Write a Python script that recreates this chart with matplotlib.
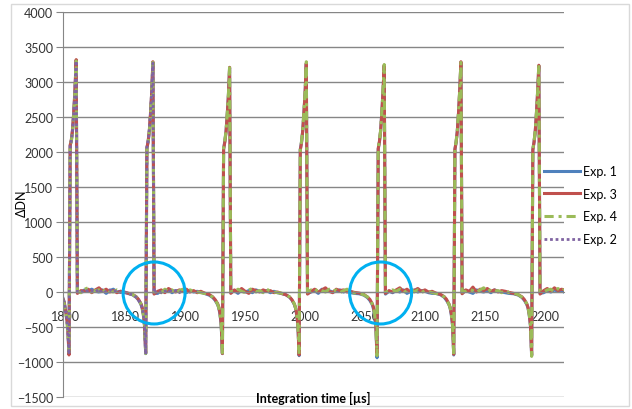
import matplotlib
matplotlib.use('Agg')
import matplotlib.pyplot as plt
from matplotlib.patches import Ellipse, Rectangle

plt.rcParams['font.family'] = ['Lato', 'DejaVu Sans']

# sample times [us]
time_us = [
    1798, 1799, 1800, 1801, 1802, 1803, 1804, 1805, 1806, 1807, 1808, 1809, 1810,
    1813, 1816, 1819, 1822, 1825, 1828, 1831, 1834, 1837, 1840, 1843, 1846, 1849,
    1852, 1856, 1859, 1861, 1863, 1864, 1865, 1866, 1867, 1868, 1869, 1870, 1871, 1872, 1873, 1874,
    1877, 1880, 1883, 1886, 1889, 1892, 1895, 1898, 1901, 1904, 1907, 1910, 1913,
    1916, 1920, 1923, 1925, 1927, 1928, 1929, 1930, 1931, 1932, 1933, 1934, 1935, 1936, 1937, 1938,
    1941, 1944, 1947, 1950, 1953, 1956, 1959, 1962, 1965, 1968, 1971, 1974, 1977,
    1980, 1984, 1987, 1989, 1991, 1992, 1993, 1994, 1995, 1996, 1997, 1998, 1999, 2000, 2001, 2002,
    2005, 2008, 2011, 2014, 2017, 2020, 2023, 2026, 2029, 2032, 2035, 2038, 2041,
    2045, 2049, 2052, 2054, 2056, 2057, 2058, 2059, 2060, 2061, 2062, 2063, 2064, 2065, 2066, 2067,
    2070, 2073, 2076, 2079, 2082, 2085, 2088, 2091, 2094, 2097, 2100, 2103, 2106,
    2109, 2113, 2116, 2118, 2120, 2121, 2122, 2123, 2124, 2125, 2126, 2127, 2128, 2129, 2130, 2131,
    2134, 2137, 2140, 2143, 2146, 2149, 2152, 2155, 2158, 2161, 2164, 2167, 2170,
    2174, 2178, 2181, 2183, 2185, 2186, 2187, 2188, 2189, 2190, 2191, 2192, 2193, 2194, 2195, 2196,
    2199, 2202, 2205, 2208, 2211, 2214, 2216,
]

exp1 = [
    -90, -140, -240, -330, -500, -880, 2090, 2170, 2310, 2560, 2880, 3310, -10,
    0, 30, 20, 40, 10, 0, 30, -20, 20, 40, 0, 10, -5,
    -20, -40, -75, -115, -175, -230, -320, -480, -880, 2050, 2140, 2290, 2530, 2840, 3280, -20,
    -20, 20, 0, 30, -10, 20, 10, 30, -10, 20, 0, 10, -5,
    -20, -45, -80, -120, -180, -230, -320, -480, -880, 2050, 2150, 2290, 2530, 2810, 3200, -10,
    20, -20, 30, 0, 20, -10, 30, 10, 0, 20, -10, 10, -10,
    -20, -40, -75, -115, -180, -230, -330, -490, -910, 2040, 2140, 2300, 2560, 2850, 3260, -20,
    0, 20, -20, 40, 10, 20, 0, 10, 30, 0, 20, -10, -20,
    -25, -45, -80, -120, -180, -240, -340, -500, -940, 2040, 2140, 2300, 2560, 2860, 3230, -30,
    10, -10, 20, 0, 30, -20, 10, 30, 0, 20, 10, -10, -20,
    -20, -40, -75, -120, -180, -230, -330, -480, -900, 2040, 2140, 2300, 2560, 2870, 3280, -20,
    20, 0, -20, 30, 10, 0, 20, -10, 30, 10, 0, -10, -20,
    -25, -45, -80, -120, -180, -230, -330, -480, -910, 2030, 2140, 2290, 2550, 2850, 3230, -20,
    -10, 20, 0, 30, 10, 20, 0,
]

exp3 = [
    -100, -150, -260, -350, -520, -900, 2100, 2180, 2330, 2580, 2900, 3320, -20,
    20, 10, 40, -10, 30, 60, 10, 40, 0, 20, -10, 10, 0,
    -15, -35, -65, -105, -165, -215, -305, -460, -870, 2060, 2150, 2300, 2550, 2850, 3290, -30,
    10, 30, -10, 50, 20, 0, 30, 10, 40, 0, 20, -10, 10,
    -15, -35, -70, -110, -165, -215, -300, -450, -880, 2040, 2140, 2280, 2520, 2800, 3210, -20,
    30, 0, 50, 10, -20, 40, 20, 0, 30, 10, 20, -10, 0,
    -20, -40, -70, -110, -170, -225, -315, -470, -900, 2030, 2130, 2300, 2560, 2850, 3270, -30,
    10, 40, 0, 30, 60, 10, -10, 40, 20, 30, 0, 10, -5,
    -15, -35, -70, -105, -165, -215, -310, -460, -900, 2050, 2150, 2300, 2560, 2870, 3240, -20,
    20, 0, 30, 60, 10, 40, 0, 20, 50, 10, 30, 0, 10,
    -15, -35, -65, -105, -170, -220, -310, -455, -890, 2040, 2140, 2300, 2560, 2880, 3290, -25,
    30, 10, 70, 0, 40, 20, 50, 10, 30, 0, 20, 10, -5,
    -20, -40, -70, -110, -170, -220, -315, -465, -900, 2030, 2140, 2290, 2550, 2860, 3240, -30,
    20, 50, 10, 60, 20, 40, 30,
]

exp4 = [
    -120, -170, -280, -380, -560, -880, 2080, 2160, 2300, 2550, 2880, 3300, 10,
    -10, 40, 60, 0, 20, 30, -10, 50, 10, 0, 30, 10, -10,
    -15, -35, -70, -110, -170, -230, -320, -480, -880, 2040, 2130, 2280, 2520, 2830, 3280, 0,
    20, -10, 40, 10, 30, -20, 20, 40, 0, 30, 10, 0, -10,
    -20, -40, -75, -115, -175, -225, -320, -470, -870, 2060, 2160, 2300, 2540, 2820, 3230, 10,
    0, 40, 10, -10, 30, 50, 0, 20, -10, 40, 10, 0, -10,
    -15, -35, -70, -110, -170, -225, -320, -480, -890, 2050, 2150, 2310, 2570, 2860, 3290, 0,
    30, 0, 50, 20, 0, 40, 10, 30, -10, 20, 40, 0, -15,
    -20, -40, -70, -110, -170, -220, -310, -470, -910, 2060, 2160, 2310, 2570, 2880, 3250, 10,
    0, 30, 10, 40, -10, 20, 50, 0, 30, -10, 20, 10, -10,
    -20, -35, -70, -115, -175, -225, -315, -470, -900, 2050, 2150, 2310, 2570, 2890, 3280, 0,
    10, 40, 20, -10, 30, 60, 0, 40, 10, 20, -10, 30, -10,
    -15, -40, -75, -110, -170, -220, -320, -470, -920, 2040, 2150, 2300, 2560, 2870, 3250, 10,
    0, 30, 40, 0, 50, 10, 40,
]

# Exp. 2 only covers the first two pulses
exp2 = [
    -110, -160, -270, -360, -540, -890, 2090, 2170, 2320, 2570, 2890, 3300, 0,
    10, -10, 30, 20, 0, 40, -20, 10, 30, 0, 20, -10, 0,
    -20, -40, -75, -115, -175, -230, -320, -480, -890, 2070, 2160, 2310, 2550, 2860, 3270, -20,
    20, -10, 10, 30, 0, 20, -10, 20, 10, 0,
]

circle_x = [1874, 2063]
circle_y = [-14, -14]

fig = plt.figure(figsize=(6.32, 4.10), dpi=100)
fig.patches.append(Rectangle((11 / 632, 3 / 410), 618 / 632, 402 / 410, transform=fig.transFigure,
                             fill=False, edgecolor='#d9d9d9', lw=1))
ax = fig.add_axes([63 / 632, 12 / 410, 501 / 632, 385 / 410])

ax.plot(time_us, exp1, color='#4F81BD', lw=2.2, label='Exp. 1')
ax.plot(time_us, exp3, color='#C0504D', lw=2.2, label='Exp. 3')
ax.plot(time_us, exp4, color='#9BBB59', lw=2.2, dashes=(3.0, 1.6, 1.0, 1.6), label='Exp. 4')
ax.plot(time_us[:len(exp2)], exp2, color='#8064A2', lw=2.0, dashes=(1.0, 1.0), label='Exp. 2')

# highlight circles
for cx, cy in zip(circle_x, circle_y):
    ax.add_patch(Ellipse((cx, cy), width=2 * 31 / 1.2, height=2 * 31 / 35 * 500,
                         fill=False, edgecolor='#00B0F0', lw=2.2, zorder=5))

ax.set_xlim(1798, 2216)
ax.set_ylim(-1500, 4000)
ax.set_yticks(range(-1500, 4001, 500))
ax.set_xticks(range(1800, 2201, 50))
ax.grid(axis='y', color='#868686', lw=1)
ax.set_axisbelow(True)

for s in ['top', 'right']:
    ax.spines[s].set_visible(False)
ax.spines['left'].set_color('#868686')
ax.spines['bottom'].set_position(('data', 0))
ax.spines['bottom'].set_color('#868686')
ax.tick_params(axis='y', length=5, color='#868686', labelsize=9, labelcolor='#333333', pad=2)
ax.tick_params(axis='x', length=0, labelsize=9, labelcolor='#333333', pad=13)

fig.text(22 / 632, 1 - 203 / 410, 'ΔDN', rotation=90, ha='center', va='center', fontsize=9)
fig.text(313 / 632, 1 - 398 / 410, 'Integration time [µs]', ha='center', va='center',
         fontsize=9, fontweight='bold')

ax.legend(loc='center left', bbox_to_anchor=(544 / 632, 1 - 206 / 410), bbox_transform=fig.transFigure,
          frameon=False, fontsize=9, handlelength=2.9, handletextpad=0.2, labelspacing=0.85,
          borderpad=0, borderaxespad=0)

fig.savefig('out.png', dpi=100)
